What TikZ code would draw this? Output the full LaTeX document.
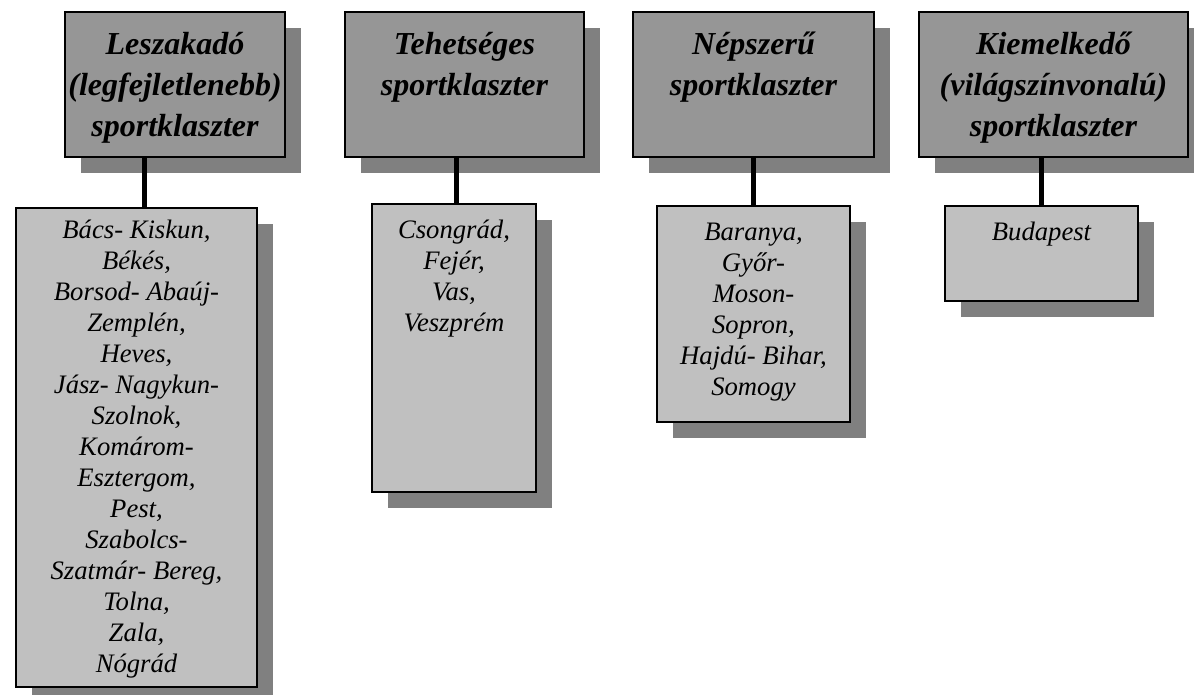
\documentclass[tikz,border=0pt]{standalone}
\usepackage{fontspec}
\setmainfont{Liberation Serif}
\usetikzlibrary{shadows}
\definecolor{topfill}{HTML}{969696}
\definecolor{botfill}{HTML}{C0C0C0}
\definecolor{shadowc}{HTML}{808080}
\begin{document}
\begin{tikzpicture}[x=0.75pt,y=-0.75pt,
 box/.style={draw=black, line width=1.5pt, rectangle, inner sep=0pt,
   drop shadow={shadow xshift=12pt, shadow yshift=-12pt, fill=shadowc, opacity=1}},
 topbox/.style={box, fill=topfill, minimum height=108.75pt},
 botbox/.style={box, fill=botfill},
 toptext/.style={anchor=north, align=center, inner sep=0pt,
   font=\fontsize{24}{30.75}\selectfont\bfseries\itshape},
 bottext/.style={anchor=north, align=center, inner sep=0pt,
   font=\fontsize{20}{23.25}\selectfont\itshape},
 link/.style={line width=3.75pt, black}]
\useasboundingbox (0,0) rectangle (1194,695);

% top boxes
\node[topbox, minimum width=165pt] (t1) at (175,84.5) {};
\node[topbox, minimum width=179.25pt] (t2) at (464.5,84.5) {};
\node[topbox, minimum width=180.75pt] (t3) at (753.5,84.5) {};
\node[topbox, minimum width=201.75pt] (t4) at (1053.5,84.5) {};

% bottom boxes
\node[botbox, minimum width=180.75pt, minimum height=359.25pt] (b1) at (136.5,447.5) {};
\node[botbox, minimum width=123pt, minimum height=216pt] (b2) at (454,348) {};
\node[botbox, minimum width=144.75pt, minimum height=162pt] (b3) at (753.5,314) {};
\node[botbox, minimum width=144.75pt, minimum height=71.25pt] (b4) at (1041.5,253.5) {};

% connectors
\draw[link] ([xshift=6pt]b1.north) -- ([xshift=6pt]b1.north |- t1.south);
\draw[link] ([xshift=1.5pt]b2.north) -- ([xshift=1.5pt]b2.north |- t2.south);
\draw[link] (b3.north) -- (b3.north |- t3.south);
\draw[link] (b4.north) -- (b4.north |- t4.south);

% top texts
\node[toptext] (tt1) at ([yshift=-15.75pt]t1.north) {Leszakadó\\(legfejletlenebb)\\sportklaszter};
\node[toptext] (tt2) at ([yshift=-15.75pt]t2.north) {Tehetséges\\sportklaszter};
\node[toptext] (tt3) at ([yshift=-15.75pt]t3.north) {Népszerű\\sportklaszter};
\node[toptext] (tt4) at ([yshift=-15.75pt]t4.north) {Kiemelkedő\\(világszínvonalú)\\sportklaszter};

% bottom texts
\node[bottext] (bt1) at ([yshift=-9.75pt]b1.north) {Bács- Kiskun,\\Békés,\\Borsod- Abaúj-\\Zemplén,\\Heves,\\Jász- Nagykun-\\Szolnok,\\Komárom-\\Esztergom,\\Pest,\\Szabolcs-\\Szatmár- Bereg,\\Tolna,\\Zala,\\Nógrád};
\node[bottext] (bt2) at ([yshift=-12.75pt]b2.north) {Csongrád,\\Fejér,\\Vas,\\Veszprém};
\node[bottext] (bt3) at ([yshift=-13.5pt]b3.north) {Baranya,\\Győr-\\Moson-\\Sopron,\\Hajdú- Bihar,\\Somogy};
\node[bottext] (bt4) at ([yshift=-12.75pt]b4.north) {Budapest};
\end{tikzpicture}
\end{document}
